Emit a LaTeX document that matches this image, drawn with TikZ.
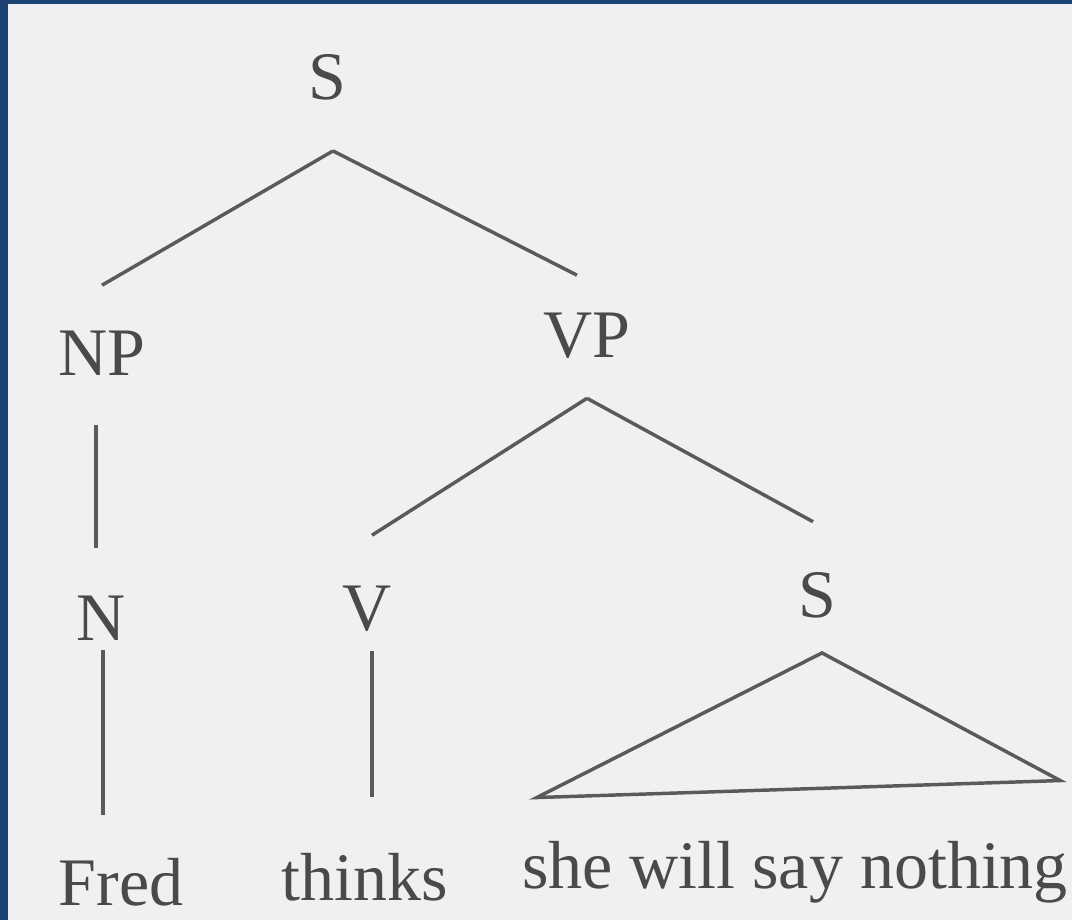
\documentclass[tikz,border=0pt]{standalone}
\usepackage{fontspec}
\usepackage{xcolor}
\usepackage{tikz}
\usetikzlibrary{calc}
\setmainfont{Liberation Serif}
\definecolor{frame}{HTML}{1B4275}
\definecolor{paper}{HTML}{F0F0F0}
\definecolor{ink}{HTML}{4A4A4A}
\definecolor{edge}{HTML}{5A5A5A}

\begin{document}
\begin{tikzpicture}[x=0.75pt, y=-0.75pt,
  lab/.style={font={\rmfamily\fontsize{51pt}{60pt}\selectfont}, text=ink, inner sep=0pt, anchor=base},
  branch/.style={draw=edge, line width=2.6pt}]
\fill[frame] (0,0) rectangle (1072,920);
\fill[paper] (8,4) rectangle (1072,920);
% categories
\node[lab] (S0) at (327,100) {S};
\node[lab] (NP) at (102,375) {NP};
\node[lab] (VP) at (587,358) {VP};
\node[lab] (N) at (101,640) {N};
\node[lab] (V) at (367,630) {V};
\node[lab] (S1) at (817,617) {S};
% words
\node[lab] (fred) at (121,905) {Fred};
\node[lab] (thinks) at (365,900) {thinks};
\node[lab] (clause) at (795,888) {she will say nothing};
% branches
\draw[branch] ($(S0.south)+(6,50)$) -- ($(NP.north)+(0,-45)$);
\draw[branch] ($(S0.south)+(6,50)$) -- ($(VP.north)+(-10,-38)$);
\draw[branch] ($(NP.south)+(-6,50)$) -- ($(N.north)+(-5,-47)$);
\draw[branch] ($(N.south)+(2,10)$) -- ($(fred.north)+(-18,-43)$);
\draw[branch] ($(VP.south)+(0,39)$) -- ($(V.north)+(5,-50)$);
\draw[branch] ($(VP.south)+(0,39)$) -- ($(S1.north)+(-4,-50)$);
\draw[branch] ($(V.south)+(5,20)$) -- ($(thinks.north)+(7,-56)$);
\draw[branch, line join=miter] ($(clause.north west)+(15,-43)$) -- ($(S1.south)+(5,35)$)
  -- ($(clause.north east)+(-8,-60)$) -- cycle;
\end{tikzpicture}
\end{document}
